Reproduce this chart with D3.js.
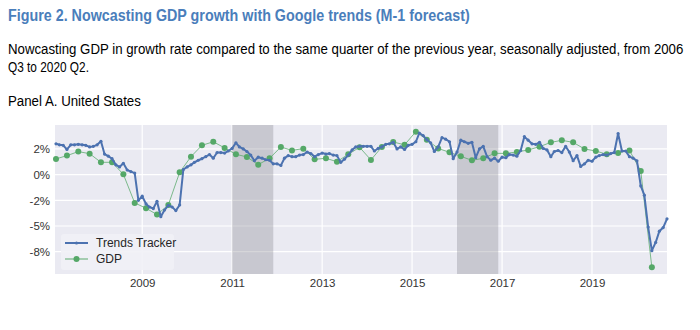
<!DOCTYPE html>
<html><head><meta charset="utf-8">
<script src="https://cdn.jsdelivr.net/npm/d3@7"></script>
<style>
html,body{margin:0;padding:0;background:#fff;}
svg{display:block;font-family:"Liberation Sans",Arial,sans-serif;}
</style></head>
<body><svg id="chart" width="700" height="330"></svg>
<script>
// ---- data ----
const trackerStart = "2007-02";   // first month of the monthly Trends Tracker series
const trackerValues = [
  3.0, 2.9, 2.85, 2.45, 2.9, 2.9, 2.95, 2.9, 2.85, 2.7, 2.75, 2.9, 3.25, 2.0, 1.8, 1.55, 0.95, 0.75, 1.1, 0.45, 0.3, 0.15,
  -2.5, -2.1, -2.85, -3.15, -3.3, -2.6, -4.1, -3.45, -3.0, -3.15, -3.5, -2.95,
  0.5, 0.75, 0.95, 1.2, 1.4, 1.55, 1.75, 1.95, 1.6, 2.15, 2.15, 2.1, 2.3, 2.55, 3.1, 2.7, 2.5, 2.25, 1.9,
  1.35, 1.7, 1.6, 1.45, 1.4, 1.05, 1.05, 0.9, 1.6, 1.85, 1.75, 1.75, 1.9, 1.95, 2.2, 2.05, 1.75, 1.95, 2.1, 2.0, 2.05, 1.9, 1.85, 1.2, 1.5, 1.9, 2.4,
  2.7, 2.75, 2.75, 2.75, 2.75, 2.3, 2.55, 2.7, 2.95, 3.0, 3.15, 2.5, 2.7, 2.45, 2.85, 2.95, 3.2, 4.05, 3.8, 3.4, 3.1, 2.25, 2.7, 3.6, 3.45, 3.2,
  1.55, 2.2, 3.35, 3.2, 3.05, 3.15, 1.65, 2.5, 2.75, 1.75, 1.4, 1.6, 1.3, 1.7, 1.65, 1.95, 1.9, 1.8, 2.35, 3.7, 3.35, 3.0, 2.95, 3.15, 2.55, 2.4, 1.75, 2.25,
  2.35, 2.15, 2.75, 2.2, 1.35, 1.85, 0.8, 1.05, 1.4, 1.3, 1.7, 1.85, 1.95, 1.9, 2.05, 2.15, 4.0, 2.3, 2.3, 1.75, 1.6, 1.35, -1.1, -2.0, -5.1, -7.4, -6.6, -5.5, -5.15, -4.3
];
const gdpStartYear = 2007;          // quarterly GDP series starts 2007 Q1
const gdpValues = [
  1.53, 1.85, 2.24, 2.04, 1.2, 1.2, 0.03, -2.75, -3.27, -3.89,
  -2.95, 0.22, 1.75, 2.85, 3.2, 2.6, 1.98, 1.72, 0.97, 1.59,
  2.69, 2.36, 2.53, 1.49, 1.59, 1.26, 1.98, 2.66, 1.43, 2.7,
  3.18, 2.9, 4.18, 3.4, 2.55, 2.17, 1.78, 1.39, 1.59, 2.07,
  2.07, 2.2, 2.4, 2.72, 3.14, 3.34, 3.14, 2.5, 2.3, 1.98,
  2.11, 2.36, 0.36, -9.02
];
const shadeStarts = ["2011-01", "2016-01"];
const shadeEnds   = ["2011-12", "2016-12"];
const yTickValues = [2.5, 0, -2.5, -5, -7.5];
const yTickLabels = ["2%", "0%", "-2%", "-5%", "-8%"];
const xTickYears  = [2009, 2011, 2013, 2015, 2017, 2019];
const seriesNames = ["Trends Tracker", "GDP"];

const titleText = "Figure 2. Nowcasting GDP growth with Google trends (M-1 forecast)";
const subtitleLines = ["Nowcasting GDP in growth rate compared to the same quarter of the previous year, seasonally adjusted, from 2006", "Q3 to 2020 Q2."];
const panelText = "Panel A. United States";

// ---- build ----
const parseMonth = d3.timeParse("%Y-%m");
const t0 = parseMonth(trackerStart);
const tracker = trackerValues.map((v, i) => ({date: d3.timeMonth.offset(t0, i), value: v}));
const gdp = gdpValues.map((v, i) => ({
  date: new Date(gdpStartYear + Math.floor(i / 4), (i % 4) * 3 + 1, 1),
  value: v
}));

const svg = d3.select("#chart");
const plot = {left: 55, right: 667, top: 125, bottom: 274};

const x = d3.scaleTime()
  .domain([tracker[0].date, tracker[tracker.length - 1].date])
  .range([plot.left + 1, plot.right]);
const y = d3.scaleLinear().domain([-9.67, 4.83]).range([plot.bottom, plot.top]);

// condensed-looking texts: draw normally, then squeeze horizontally to the reference width
function narrowText(str, xPos, yPos, size, width, opts) {
  const grp = svg.append("g");
  const t = grp.append("text").attr("x", 0).attr("y", 0)
    .attr("font-size", size).attr("fill", opts.fill || "#000")
    .attr("font-weight", opts.weight || "normal").text(str);
  const natural = t.node().getComputedTextLength();
  const k = width / natural;
  grp.attr("transform", `translate(${xPos},${yPos}) scale(${k},1)`);
}
narrowText(titleText, 8, 21, 16.5, 462, {fill: "#4a7ebb", weight: "bold"});
narrowText(subtitleLines[0], 8, 54, 15.5, 676, {});
narrowText(subtitleLines[1], 8, 72, 15.5, 81, {});
narrowText(panelText, 8, 106, 15.5, 133, {});

// plot background
svg.append("rect").attr("x", plot.left).attr("y", plot.top)
  .attr("width", plot.right - plot.left).attr("height", plot.bottom - plot.top)
  .attr("fill", "#eaeaf2");

// grid
const g = svg.append("g");
g.selectAll(".hg").data(yTickValues).join("line")
  .attr("x1", plot.left).attr("x2", plot.right)
  .attr("y1", d => y(d)).attr("y2", d => y(d))
  .attr("stroke", "#fff").attr("stroke-width", 1.2);
g.selectAll(".vg").data(xTickYears).join("line")
  .attr("x1", d => x(new Date(d, 0, 1))).attr("x2", d => x(new Date(d, 0, 1)))
  .attr("y1", plot.top).attr("y2", plot.bottom)
  .attr("stroke", "#fff").attr("stroke-width", 1.2);

// shaded periods
svg.append("g").selectAll("rect").data(shadeStarts.map((s, i) => [parseMonth(s), parseMonth(shadeEnds[i])]))
  .join("rect")
  .attr("x", d => x(d[0])).attr("width", d => x(d[1]) - x(d[0]))
  .attr("y", plot.top).attr("height", plot.bottom - plot.top)
  .attr("fill", "#7f7f8a").attr("fill-opacity", 0.32);

// axes labels
const yAxis = d3.axisLeft(y).tickValues(yTickValues).tickFormat((d, i) => yTickLabels[i]).tickSize(0).tickPadding(5);
const ya = svg.append("g").attr("transform", `translate(${plot.left},0)`).call(yAxis);
ya.select(".domain").remove();
ya.selectAll("text").attr("font-size", 11.5).attr("fill", "#333").attr("font-family", "Liberation Sans, Arial, sans-serif");

const xAxis = d3.axisBottom(x).tickValues(xTickYears.map(yr => new Date(yr, 0, 1))).tickFormat(d3.timeFormat("%Y")).tickSize(0).tickPadding(5);
const xa = svg.append("g").attr("transform", `translate(0,${plot.bottom})`).call(xAxis);
xa.select(".domain").remove();
xa.selectAll("text").attr("font-size", 11.5).attr("fill", "#333").attr("font-family", "Liberation Sans, Arial, sans-serif");

// series
const blue = "#4c72b0", green = "#55a868";
const line = d3.line().x(d => x(d.date)).y(d => y(d.value));

svg.append("path").datum(gdp).attr("d", line)
  .attr("fill", "none").attr("stroke", green).attr("stroke-width", 1).attr("stroke-opacity", 0.75);
svg.append("g").selectAll("circle").data(gdp).join("circle")
  .attr("cx", d => x(d.date)).attr("cy", d => y(d.value)).attr("r", 3)
  .attr("fill", green);

svg.append("path").datum(tracker).attr("d", line)
  .attr("fill", "none").attr("stroke", blue).attr("stroke-width", 2).attr("stroke-linejoin", "round");
svg.append("g").selectAll("circle").data(tracker).join("circle")
  .attr("cx", d => x(d.date)).attr("cy", d => y(d.value)).attr("r", 1.6)
  .attr("fill", blue);

// legend
const lg = svg.append("g");
lg.append("rect").attr("x", 61).attr("y", 234).attr("width", 113).attr("height", 36)
  .attr("rx", 3).attr("fill", "#f1f1f6").attr("fill-opacity", 0.9);
const rows = [
  {name: seriesNames[0], color: blue, w: 2, r: 1.6, op: 1},
  {name: seriesNames[1], color: green, w: 1.2, r: 3, op: 0.8}
];
rows.forEach((r, i) => {
  const yy = 243 + i * 16;
  lg.append("line").attr("x1", 65).attr("x2", 88).attr("y1", yy).attr("y2", yy)
    .attr("stroke", r.color).attr("stroke-width", r.w).attr("stroke-opacity", r.op);
  lg.append("circle").attr("cx", 76.5).attr("cy", yy).attr("r", r.r).attr("fill", r.color);
  lg.append("text").attr("x", 96).attr("y", yy + 4).attr("font-size", 12).attr("fill", "#262626").text(r.name);
});
</script>
</body></html>
